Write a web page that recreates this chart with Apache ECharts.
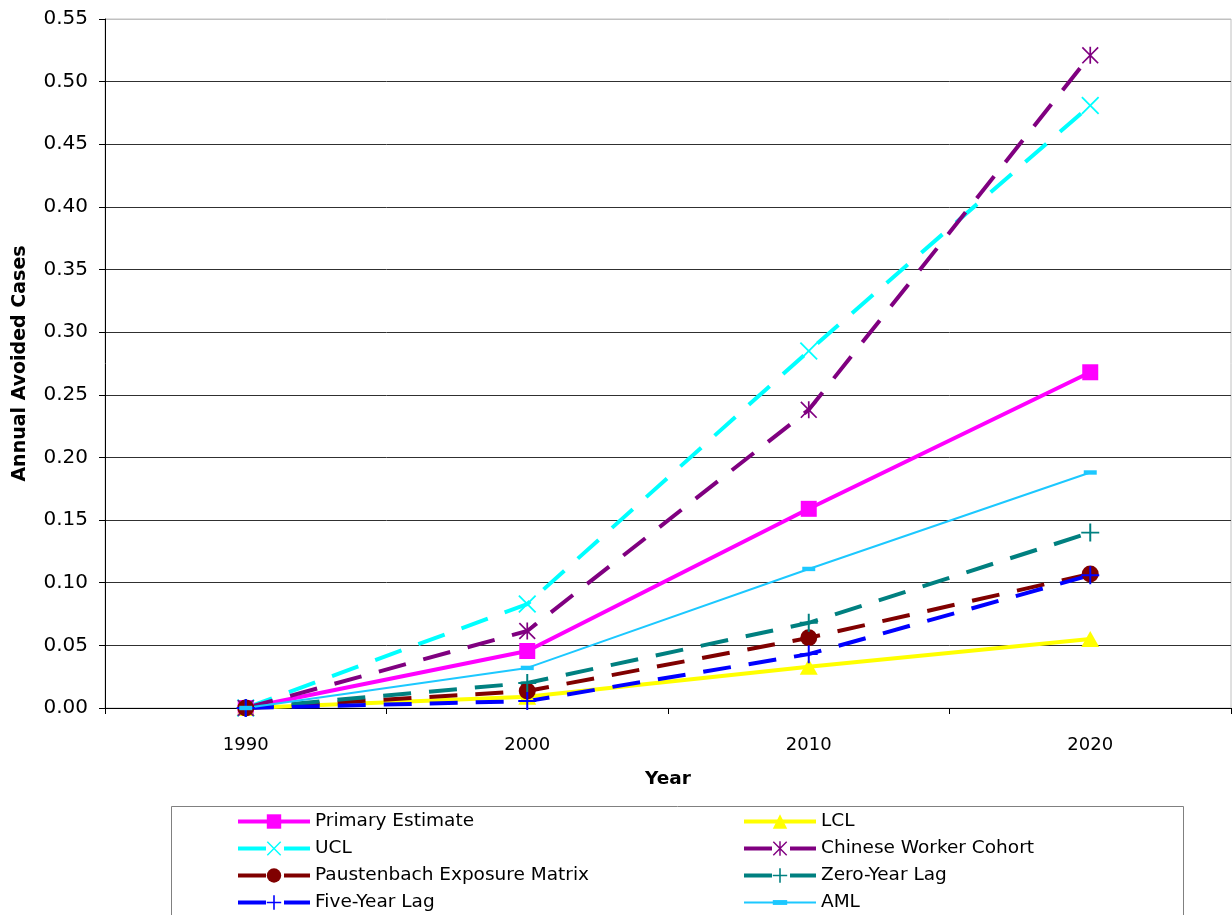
<!DOCTYPE html>
<html>
<head>
<meta charset="utf-8">
<script src="https://cdn.jsdelivr.net/npm/echarts@6/dist/echarts.min.js"></script>
<style>
  html, body { margin: 0; padding: 0; background: #fff; }
  #chart { width: 1232px; height: 915px; }
</style>
</head>
<body>
<div id="chart"></div>
<script>
// Annual avoided cases by year, one series per estimate
const years = ['1990', '2000', '2010', '2020'];
const primaryEstimate = [0, 0.0455, 0.159, 0.268];
const lcl = [0, 0.009, 0.033, 0.055];
const ucl = [0, 0.083, 0.285, 0.481];
const chineseWorkerCohort = [0, 0.0615, 0.238, 0.521];
const paustenbachMatrix = [0, 0.0135, 0.056, 0.107];
const zeroYearLag = [0, 0.020, 0.068, 0.140];
const fiveYearLag = [0, 0.0055, 0.043, 0.106];
const aml = [0, 0.032, 0.111, 0.188];
const yTicks = { min: 0, max: 0.55, step: 0.05 };

const FONT = 'DejaVu Sans';
const DASH = [28, 18];

// marker outlines
const X_PATH = 'path://M0,1.4 L1.4,0 L10,8.6 L18.6,0 L20,1.4 L11.4,10 L20,18.6 L18.6,20 L10,11.4 L1.4,20 L0,18.6 L8.6,10 Z';
const STAR_PATH = X_PATH + ' M9,0 L11,0 L11,20 L9,20 Z';
const PLUS_PATH = 'path://M8.9,0 L11.1,0 L11.1,8.9 L20,8.9 L20,11.1 L11.1,11.1 L11.1,20 L8.9,20 L8.9,11.1 L0,11.1 L0,8.9 L8.9,8.9 Z';
// flat bar centred in a square box (the bare moves set the box)
const BAR_PATH = 'path://M0,0 M0,4.3 L13,4.3 L13,8.7 L0,8.7 Z M13,13';

function line(name, data, color, opts) {
  return Object.assign({
    name: name,
    type: 'line',
    data: data,
    showSymbol: true,
    symbol: 'rect',
    symbolSize: 16,
    animation: false,
    lineStyle: { color: color, width: 4, type: 'solid', cap: 'butt' },
    itemStyle: { color: color, borderWidth: 0 },
    emphasis: { disabled: true }
  }, opts || {});
}

const series = [
  line('Primary Estimate', primaryEstimate, '#FF00FF', { symbol: 'rect', symbolSize: 16 }),
  line('LCL', lcl, '#FFFF00', { symbol: 'triangle', symbolSize: [18, 16] }),
  line('UCL', ucl, '#00FFFF', {
    symbol: X_PATH, symbolSize: 18,
    lineStyle: { color: '#00FFFF', width: 4, type: DASH }
  }),
  line('Chinese Worker Cohort', chineseWorkerCohort, '#800080', {
    symbol: STAR_PATH, symbolSize: 17,
    lineStyle: { color: '#800080', width: 4, type: DASH }
  }),
  line('Paustenbach Exposure Matrix', paustenbachMatrix, '#800000', {
    symbol: 'circle', symbolSize: 17,
    lineStyle: { color: '#800000', width: 4, type: DASH }
  }),
  line('Zero-Year Lag', zeroYearLag, '#008080', {
    symbol: PLUS_PATH, symbolSize: 18,
    lineStyle: { color: '#008080', width: 4, type: DASH }
  }),
  line('Five-Year Lag', fiveYearLag, '#0000FF', {
    symbol: PLUS_PATH, symbolSize: 18,
    lineStyle: { color: '#0000FF', width: 4, type: DASH }
  }),
  line('AML', aml, '#1CC8FF', {
    symbol: BAR_PATH, symbolSize: 13,
    lineStyle: { color: '#1CC8FF', width: 2, type: 'solid' }
  })
];

// split lines: darker inside, light grey along the top frame
const splitColors = [];
const nTicks = Math.round((yTicks.max - yTicks.min) / yTicks.step) + 1;
for (let i = 0; i < nTicks; i++) splitColors.push(i === nTicks - 1 ? '#c0c0c0' : '#303030');

const legendText = { fontFamily: FONT, fontSize: 18.5, color: '#000', lineHeight: 18 };
const legendCommon = {
  orient: 'vertical',
  top: 812,
  padding: 0,
  itemWidth: 72,
  itemHeight: 18,
  itemGap: 8,
  textStyle: legendText,
  selectedMode: false,
  lineStyle: { width: 'inherit', type: 'inherit', color: 'inherit' }
};

const chart = echarts.init(document.getElementById('chart'), null, { renderer: 'canvas' });
chart.setOption({
  backgroundColor: '#ffffff',
  animation: false,
  textStyle: { fontFamily: FONT },
  grid: {
    left: 105, right: 1, top: 19, bottom: 207,
    show: true, borderColor: '#c0c0c0', borderWidth: 1, backgroundColor: 'transparent'
  },
  xAxis: {
    type: 'category',
    data: years,
    boundaryGap: true,
    name: 'Year',
    nameLocation: 'middle',
    nameGap: 62,
    nameTextStyle: { fontFamily: FONT, fontSize: 18.5, fontWeight: 'bold', color: '#000' },
    axisLine: { lineStyle: { color: '#000', width: 1 } },
    axisTick: { show: true, length: 6, inside: false, alignWithLabel: false, lineStyle: { color: '#000' } },
    axisLabel: { fontFamily: FONT, fontSize: 18, color: '#000', margin: 28 },
    splitLine: { show: false }
  },
  yAxis: {
    type: 'value',
    min: yTicks.min,
    max: yTicks.max,
    interval: yTicks.step,
    name: 'Annual Avoided Cases',
    nameLocation: 'middle',
    nameGap: 75,
    nameTextStyle: { fontFamily: FONT, fontSize: 19, fontWeight: 'bold', color: '#000' },
    axisLine: { show: true, lineStyle: { color: '#000', width: 1 } },
    axisTick: { show: true, length: 6, inside: false, lineStyle: { color: '#000' } },
    axisLabel: {
      fontFamily: FONT, fontSize: 20, color: '#000', margin: 17,
      formatter: v => v.toFixed(2)
    },
    splitLine: { show: true, lineStyle: { color: splitColors, width: 1 } }
  },
  legend: [
    Object.assign({}, legendCommon, {
      left: 236,
      data: ['Primary Estimate', 'UCL', 'Paustenbach Exposure Matrix', 'Five-Year Lag']
    }),
    Object.assign({}, legendCommon, {
      left: 742,
      data: ['LCL', 'Chinese Worker Cohort', 'Zero-Year Lag', 'AML']
    })
  ],
  graphic: [
    {
      type: 'rect',
      left: 171, top: 806,
      shape: { width: 1012, height: 130 },
      style: { fill: 'transparent', stroke: '#808080', lineWidth: 1 },
      silent: true, z: -1
    }
  ],
  series: series
});
</script>
</body>
</html>
